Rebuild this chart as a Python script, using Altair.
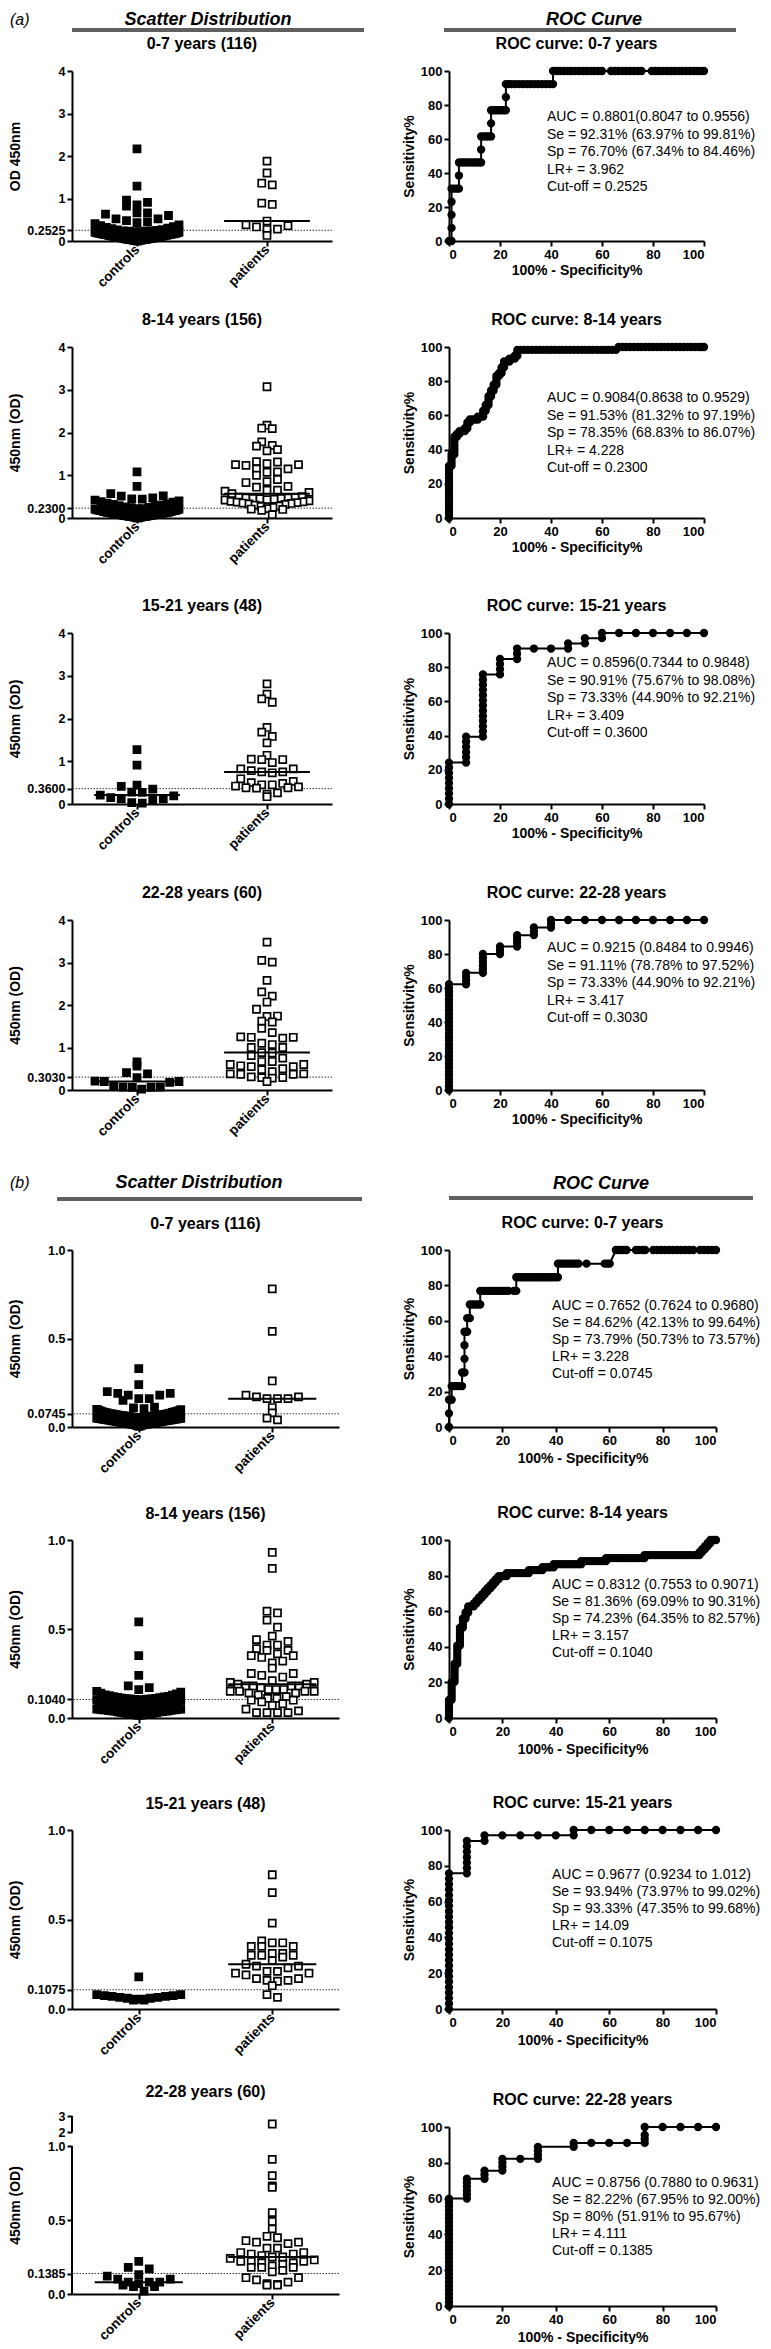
import altair as alt
import numpy as np
import pandas as pd

FONT = "Liberation Sans"

# ----------------------------- text -----------------------------
scatter_titles = ["0-7 years (116)", "8-14 years (156)", "15-21 years (48)", "22-28 years (60)"]
roc_titles = ["ROC curve: 0-7 years", "ROC curve: 8-14 years", "ROC curve: 15-21 years", "ROC curve: 22-28 years"]
ytitles_a = ["OD 450nm", "450nm (OD)", "450nm (OD)", "450nm (OD)"]
ytitles_b = ["450nm (OD)", "450nm (OD)", "450nm (OD)", "450nm (OD)"]
categories = ["controls", "patients"]

cutoffs_a = [0.2525, 0.2300, 0.3600, 0.3030]
cutoff_labels_a = ["0.2525", "0.2300", "0.3600", "0.3030"]
cutoffs_b = [0.0745, 0.1040, 0.1075, 0.1385]
cutoff_labels_b = ["0.0745", "0.1040", "0.1075", "0.1385"]

roc_text_a = [
    ["AUC =  0.8801(0.8047 to 0.9556)", "Se = 92.31% (63.97% to 99.81%)", "Sp = 76.70% (67.34% to 84.46%)", "LR+ = 3.962", "Cut-off = 0.2525"],
    ["AUC =  0.9084(0.8638 to 0.9529)", "Se = 91.53% (81.32% to 97.19%)", "Sp = 78.35% (68.83% to 86.07%)", "LR+ = 4.228", "Cut-off = 0.2300"],
    ["AUC =  0.8596(0.7344 to 0.9848)", "Se = 90.91% (75.67% to 98.08%)", "Sp = 73.33% (44.90% to 92.21%)", "LR+ = 3.409", "Cut-off = 0.3600"],
    ["AUC =  0.9215 (0.8484 to 0.9946)", "Se = 91.11% (78.78% to 97.52%)", "Sp = 73.33% (44.90% to 92.21%)", "LR+ = 3.417", "Cut-off = 0.3030"],
]
roc_text_b = [
    ["AUC =  0.7652 (0.7624 to 0.9680)", "Se = 84.62% (42.13% to 99.64%)", "Sp = 73.79% (50.73% to 73.57%)", "LR+ = 3.228", "Cut-off = 0.0745"],
    ["AUC =  0.8312 (0.7553 to 0.9071)", "Se = 81.36% (69.09% to 90.31%)", "Sp = 74.23% (64.35% to 82.57%)", "LR+ = 3.157", "Cut-off = 0.1040"],
    ["AUC =  0.9677 (0.9234 to 1.012)", "Se = 93.94% (73.97% to 99.02%)", "Sp = 93.33% (47.35% to 99.68%)", "LR+ = 14.09", "Cut-off = 0.1075"],
    ["AUC =  0.8756 (0.7880 to 0.9631)", "Se = 82.22% (67.95% to 92.00%)", "Sp = 80% (51.91% to 95.67%)", "LR+ = 4.111", "Cut-off = 0.1385"],
]

# ----------------------------- scatter values (OD 450 nm) -----------------------------
a1_controls = [2.17, 1.29, 0.96, 0.91, 0.85, 0.82, 0.66, 0.66, 0.63, 0.60, 0.52, 0.52,
               0.48, 0.45, 0.43, 0.41, 0.38, 0.36, 0.34, 0.32, 0.30, 0.29, 0.27, 0.26,
               0.25, 0.24, 0.24, 0.23, 0.23, 0.22, 0.22, 0.21, 0.21, 0.20,
               0.20, 0.19, 0.19, 0.18, 0.18, 0.18, 0.17, 0.17, 0.17, 0.16,
               0.16, 0.16, 0.15, 0.15, 0.15, 0.14, 0.14, 0.14, 0.13, 0.13,
               0.13, 0.12, 0.12, 0.12, 0.11, 0.11, 0.11, 0.10, 0.10, 0.10,
               0.09, 0.09, 0.09, 0.08, 0.08, 0.08, 0.07, 0.07, 0.07, 0.06,
               0.06, 0.06, 0.05, 0.05, 0.05, 0.04, 0.04, 0.04, 0.03, 0.03,
               0.03, 0.02, 0.02, 0.02, 0.01, 0.01, 0.19, 0.18, 0.15, 0.12,
               0.10, 0.09, 0.07, 0.05, 0.04, 0.03, 0.02, 0.01, 0.00]
a1_patients = [1.88, 1.60, 1.36, 1.32, 0.89, 0.86, 0.47, 0.38, 0.36, 0.33, 0.28, 0.27, 0.13]

a2_controls = [1.08, 0.74, 0.57, 0.52, 0.51, 0.47, 0.45, 0.44, 0.42, 0.40, 0.38, 0.37, 0.35, 0.33,
               0.32, 0.30, 0.29, 0.27, 0.26, 0.25, 0.24,
               0.22, 0.22, 0.21, 0.21, 0.20, 0.20, 0.19, 0.19, 0.18, 0.18,
               0.17, 0.17, 0.16, 0.16, 0.15, 0.15, 0.15, 0.14, 0.14, 0.14,
               0.13, 0.13, 0.13, 0.12, 0.12, 0.12, 0.11, 0.11, 0.11, 0.10,
               0.10, 0.10, 0.09, 0.09, 0.09, 0.08, 0.08, 0.08, 0.07, 0.07,
               0.07, 0.06, 0.06, 0.06, 0.05, 0.05, 0.05, 0.04, 0.04, 0.04,
               0.03, 0.03, 0.03, 0.02, 0.02, 0.02, 0.01, 0.01, 0.00, 0.18,
               0.16, 0.14, 0.12, 0.10, 0.08, 0.06, 0.04, 0.02, 0.17, 0.13,
               0.09, 0.05, 0.03, 0.19, 0.11, 0.07]
a2_patients = [3.07, 2.17, 2.10, 2.09, 1.78, 1.70, 1.68, 1.60, 1.57,
               1.32, 1.31, 1.27, 1.25, 1.25, 1.23, 1.15, 1.15, 1.08, 1.07, 1.00,
               0.90, 0.85, 0.83, 0.74, 0.72, 0.65, 0.65, 0.63, 0.60, 0.57,
               0.50, 0.49, 0.48, 0.47, 0.47, 0.46, 0.46, 0.45, 0.44, 0.43,
               0.42, 0.40, 0.39, 0.38, 0.37, 0.36, 0.35, 0.34, 0.33, 0.32,
               0.30, 0.28, 0.27, 0.25, 0.22, 0.21, 0.20, 0.18, 0.08]

a3_controls = [1.27, 0.91, 0.44, 0.41, 0.35, 0.28, 0.27, 0.21, 0.19, 0.15, 0.12, 0.12, 0.10, 0.03, 0.02]
a3_patients = [2.81, 2.57, 2.46, 2.38, 1.79, 1.68, 1.58, 1.43, 1.14, 1.05, 1.04, 1.04, 0.97,
               0.82, 0.82, 0.78, 0.75, 0.75, 0.73, 0.59, 0.53, 0.50, 0.48, 0.45, 0.45,
               0.42, 0.40, 0.38, 0.38, 0.37, 0.26, 0.23, 0.17]

a4_controls = [0.66, 0.56, 0.41, 0.38, 0.29, 0.21, 0.20, 0.20, 0.18, 0.10, 0.07, 0.07, 0.06, 0.06, 0.02]
a4_patients = [3.48, 3.05, 3.01, 2.58, 2.31, 2.21, 2.07, 1.90, 1.74, 1.73, 1.62, 1.60, 1.45, 1.35,
               1.25, 1.24, 1.24, 1.22, 1.10, 1.07, 1.00, 1.00, 0.88, 0.87, 0.81, 0.75,
               0.67, 0.67, 0.60, 0.60, 0.57, 0.55, 0.55, 0.50, 0.48,
               0.43, 0.38, 0.38, 0.37, 0.37, 0.31, 0.29, 0.29, 0.28, 0.20]

b1_controls = [0.33, 0.24, 0.20, 0.19, 0.18, 0.16, 0.15, 0.16, 0.18, 0.19,
               0.112, 0.108, 0.104, 0.10, 0.098, 0.095, 0.092, 0.09, 0.088, 0.086,
               0.085, 0.083, 0.082, 0.08, 0.079, 0.077, 0.076,
               0.074, 0.073, 0.072, 0.071, 0.07, 0.069, 0.068, 0.067, 0.066, 0.065,
               0.064, 0.063, 0.062, 0.061, 0.06, 0.059, 0.058, 0.057, 0.056, 0.055,
               0.054, 0.053, 0.052, 0.051, 0.05, 0.049, 0.048, 0.047, 0.046, 0.045,
               0.044, 0.043, 0.042, 0.041, 0.04, 0.039, 0.038, 0.037, 0.036, 0.035,
               0.034, 0.033, 0.032, 0.031, 0.03, 0.029, 0.028, 0.027, 0.026, 0.025,
               0.024, 0.023, 0.022, 0.021, 0.02, 0.019, 0.018, 0.017, 0.016, 0.015,
               0.014, 0.012, 0.01, 0.008, 0.006, 0.004, 0.062, 0.055, 0.048, 0.041,
               0.034, 0.027, 0.02, 0.066, 0.044, 0.013]
b1_patients = [0.78, 0.54, 0.26, 0.18, 0.17, 0.17, 0.16, 0.16, 0.16, 0.11, 0.08, 0.05, 0.04]

b2_controls = [0.54, 0.35, 0.24, 0.18, 0.17, 0.16, 0.15,
               0.145, 0.14, 0.135, 0.13, 0.128, 0.125, 0.122, 0.12, 0.118, 0.116, 0.114,
               0.112, 0.11, 0.109, 0.108, 0.107, 0.106, 0.105,
               0.103, 0.102, 0.10, 0.099, 0.098, 0.096, 0.095, 0.094, 0.092, 0.09,
               0.089, 0.088, 0.086, 0.085, 0.084, 0.082, 0.08, 0.079, 0.078, 0.076,
               0.075, 0.074, 0.072, 0.07, 0.069, 0.068, 0.066, 0.065, 0.064, 0.062,
               0.06, 0.059, 0.058, 0.056, 0.055, 0.054, 0.052, 0.05, 0.049, 0.048,
               0.046, 0.045, 0.044, 0.042, 0.04, 0.039, 0.038, 0.036, 0.035, 0.034,
               0.032, 0.03, 0.029, 0.028, 0.026, 0.025, 0.024, 0.022, 0.02, 0.019,
               0.018, 0.016, 0.015, 0.09, 0.085, 0.08, 0.07, 0.065, 0.06, 0.05,
               0.045, 0.04]
b2_patients = [0.93, 0.84, 0.60, 0.59, 0.55, 0.51, 0.46, 0.44, 0.43, 0.41, 0.41, 0.39, 0.38, 0.38,
               0.36, 0.35, 0.35, 0.34, 0.32, 0.31, 0.28, 0.25, 0.25, 0.24, 0.23,
               0.21, 0.20, 0.20, 0.19, 0.19, 0.18, 0.18, 0.18, 0.18,
               0.17, 0.16, 0.16, 0.16, 0.15, 0.15, 0.15, 0.15, 0.14, 0.14, 0.13,
               0.12, 0.11, 0.11, 0.10, 0.10, 0.09, 0.08, 0.07, 0.05, 0.04, 0.03, 0.03, 0.03, 0.03]

b3_controls = [0.18, 0.08, 0.08, 0.075, 0.07, 0.065, 0.06, 0.055, 0.05, 0.05, 0.055, 0.06, 0.065, 0.07, 0.075]
b3_patients = [0.75, 0.65, 0.48, 0.38, 0.37, 0.37, 0.35, 0.35, 0.35, 0.31, 0.31, 0.30, 0.30, 0.30, 0.29,
               0.27, 0.25, 0.24, 0.24, 0.23, 0.21, 0.21, 0.20, 0.20, 0.19,
               0.17, 0.17, 0.16, 0.16, 0.155, 0.13, 0.08, 0.065]

b4_controls = [0.22, 0.18, 0.17, 0.13, 0.12, 0.10, 0.10, 0.08, 0.08, 0.08, 0.07, 0.06, 0.05, 0.05, 0.02]
b4_patients = [2.50, 0.91, 0.80, 0.73, 0.72, 0.55, 0.49, 0.44,
               0.39, 0.38, 0.36, 0.35, 0.35, 0.34, 0.31, 0.31,
               0.28, 0.28, 0.27, 0.27, 0.26, 0.25, 0.25, 0.24, 0.23, 0.22,
               0.22, 0.22, 0.21, 0.21, 0.20, 0.19, 0.18, 0.18, 0.18, 0.16, 0.15,
               0.11, 0.11, 0.095, 0.08, 0.07, 0.065, 0.06, 0.06]

# ----------------------------- ROC points (100% - Specificity%, Sensitivity%) -----------------------------
a1_roc = [(0, 0), (1, 0), (1, 7.7), (1, 15.4), (1, 23.1), (1, 30.8), (2, 30.8), (3, 30.8), (3.9, 30.8), (3.9, 38.5),
          (3.9, 46.2), (5, 46.2), (6, 46.2), (7, 46.2), (8, 46.2), (9, 46.2), (10, 46.2), (11, 46.2), (12, 46.2),
          (12.6, 46.2), (12.6, 53.8), (12.6, 61.5), (13.6, 61.5), (14.6, 61.5), (15.5, 61.5), (16.5, 61.5),
          (16.5, 69.2), (16.5, 76.9), (17.5, 76.9), (18.4, 76.9), (19.4, 76.9), (20.4, 76.9), (21.4, 76.9),
          (22.3, 76.9), (22.3, 84.6), (22.3, 92.3), (23.3, 92.3), (24.5, 92.3), (26, 92.3), (27.5, 92.3), (29, 92.3),
          (30.5, 92.3), (32, 92.3), (33.5, 92.3), (35, 92.3), (36.5, 92.3), (38, 92.3), (39.5, 92.3), (40.8, 92.3),
          (40.8, 100), (42, 100), (43.5, 100), (45, 100), (46.5, 100), (48, 100), (49.5, 100), (51, 100), (52.5, 100),
          (54, 100), (55.5, 100), (57, 100), (58.5, 100), (60, 100), (63.5, 100), (65, 100), (66.5, 100), (68, 100),
          (69.5, 100), (71, 100), (72.5, 100), (74, 100), (75.5, 100), (79.5, 100), (81, 100), (82.5, 100), (84, 100),
          (85.5, 100), (87, 100), (88.5, 100), (90, 100), (91.5, 100), (93, 100), (94.5, 100), (96, 100), (97.5, 100),
          (99, 100), (100, 100)]
a2_roc = [(0, 0), (0, 1.7), (0, 3.4), (0, 5.1), (0, 6.8), (0, 8.5), (0, 10.2), (0, 11.9), (0, 13.6), (0, 15.3),
          (0, 16.9), (0, 18.6), (0, 20.3), (0, 22), (0, 23.7), (0, 25.4), (0, 27.1), (0, 28.8), (0, 30.5),
          (1, 30.5), (1, 32.2), (1, 33.9), (1, 35.6), (1, 37.3), (2.1, 37.3), (2.1, 39), (2.1, 40.7), (2.1, 42.4),
          (2.1, 44.1), (2.1, 45.8), (2.1, 47.5), (3.1, 47.5), (3.1, 49.2), (4.1, 49.2), (4.1, 50.8), (5.2, 50.8),
          (6.2, 50.8), (6.2, 52.5), (7.2, 52.5), (7.2, 54.2), (7.2, 55.9), (8.2, 55.9), (8.2, 57.6), (9.3, 57.6),
          (10.3, 57.6), (11.3, 57.6), (11.3, 59.3), (12.4, 59.3), (13.4, 59.3), (13.4, 61), (13.4, 62.7), (14.4, 62.7),
          (14.4, 64.4), (14.4, 66.1), (15.5, 66.1), (15.5, 67.8), (15.5, 69.5), (15.5, 71.2), (16.5, 71.2),
          (16.5, 72.9), (16.5, 74.6), (17.5, 74.6), (17.5, 76.3), (17.5, 78), (18.6, 78), (18.6, 79.7), (18.6, 81.4),
          (18.6, 83.1), (19.6, 83.1), (19.6, 84.7), (20.6, 84.7), (20.6, 86.4), (20.6, 88.1), (21.6, 88.1),
          (21.6, 89.8), (21.6, 91.5), (22.7, 91.5), (23.7, 91.5), (23.7, 93.2), (24.7, 93.2), (25.8, 93.2),
          (25.8, 94.9), (26.8, 94.9), (26.8, 96.6), (26.8, 98.3), (28, 98.3), (29.5, 98.3), (31, 98.3), (32.5, 98.3),
          (34, 98.3), (35.5, 98.3), (37, 98.3), (38.5, 98.3), (40, 98.3), (41.5, 98.3), (43, 98.3), (44.5, 98.3),
          (46, 98.3), (47.5, 98.3), (49, 98.3), (50.5, 98.3), (52, 98.3), (53.5, 98.3), (55, 98.3), (56.5, 98.3),
          (58, 98.3), (59.5, 98.3), (61, 98.3), (62.5, 98.3), (64, 98.3), (65.5, 98.3), (66.5, 100), (68, 100),
          (69.5, 100), (71, 100), (72.5, 100), (74, 100), (75.5, 100), (77, 100), (78.5, 100), (80, 100), (81.5, 100),
          (83, 100), (84.5, 100), (86, 100), (87.5, 100), (89, 100), (90.5, 100), (92, 100), (93.5, 100), (95, 100),
          (96.5, 100), (98, 100), (99, 100), (100, 100)]
a3_roc = [(0, 0), (0, 3), (0, 6.1), (0, 9.1), (0, 12.1), (0, 15.2), (0, 18.2), (0, 21.2), (0, 24.2), (6.7, 24.2),
          (6.7, 27.3), (6.7, 30.3), (6.7, 33.3), (6.7, 36.4), (6.7, 39.4), (13.3, 39.4), (13.3, 42.4), (13.3, 45.5),
          (13.3, 48.5), (13.3, 51.5), (13.3, 54.5), (13.3, 57.6), (13.3, 60.6), (13.3, 63.6), (13.3, 66.7),
          (13.3, 69.7), (13.3, 72.7), (13.3, 75.8), (20, 75.8), (20, 78.8), (20, 81.8), (20, 84.8), (26.7, 84.8),
          (26.7, 87.9), (26.7, 90.9), (33.3, 90.9), (40, 90.9), (46.7, 90.9), (46.7, 93.9), (53.3, 93.9), (53.3, 97),
          (60, 97), (60, 100), (66.7, 100), (73.3, 100), (80, 100), (86.7, 100), (93.3, 100), (100, 100)]
a4_roc = [(0, 0), (0, 2.2), (0, 4.4), (0, 6.7), (0, 8.9), (0, 11.1), (0, 13.3), (0, 15.6), (0, 17.8), (0, 20),
          (0, 22.2), (0, 24.4), (0, 26.7), (0, 28.9), (0, 31.1), (0, 33.3), (0, 35.6), (0, 37.8), (0, 40), (0, 42.2),
          (0, 44.4), (0, 46.7), (0, 48.9), (0, 51.1), (0, 53.3), (0, 55.6), (0, 57.8), (0, 60), (0, 62.2),
          (6.7, 62.2), (6.7, 64.4), (6.7, 66.7), (6.7, 68.9), (13.3, 68.9), (13.3, 71.1), (13.3, 73.3), (13.3, 75.6),
          (13.3, 77.8), (13.3, 80), (20, 80), (20, 82.2), (20, 84.4), (26.7, 84.4), (26.7, 86.7), (26.7, 88.9),
          (26.7, 91.1), (33.3, 91.1), (33.3, 93.3), (33.3, 95.6), (40, 95.6), (40, 97.8), (40, 100), (46.7, 100),
          (53.3, 100), (60, 100), (66.7, 100), (73.3, 100), (80, 100), (86.7, 100), (93.3, 100), (100, 100)]
b1_roc = [(0, 0), (0, 7.7), (0, 15.4), (1, 15.4), (1, 23.1), (2, 23.1), (3, 23.1), (4, 23.1), (4.9, 23.1), (4.9, 30.8),
          (5.8, 30.8), (5.8, 38.5), (5.8, 46.2), (5.8, 53.8), (6.8, 53.8), (6.8, 61.5), (7.8, 61.5), (7.8, 69.2),
          (8.7, 69.2), (9.7, 69.2), (10.7, 69.2), (11.7, 69.2), (11.7, 76.9), (12.6, 76.9), (13.6, 76.9), (14.6, 76.9),
          (15.5, 76.9), (16.5, 76.9), (17.5, 76.9), (18.4, 76.9), (19.4, 76.9), (20.4, 76.9), (21.4, 76.9),
          (22.3, 76.9), (24.3, 76.9), (25.2, 76.9), (25.2, 84.6), (26.2, 84.6), (27.2, 84.6), (28.2, 84.6),
          (29.1, 84.6), (30.1, 84.6), (31.1, 84.6), (32, 84.6), (33, 84.6), (34, 84.6), (35, 84.6), (35.9, 84.6),
          (36.9, 84.6), (37.9, 84.6), (38.8, 84.6), (39.8, 84.6), (40.8, 84.6), (40.8, 92.3), (41.7, 92.3),
          (42.7, 92.3), (43.7, 92.3), (44.7, 92.3), (45.6, 92.3), (46.6, 92.3), (47.6, 92.3), (48.5, 92.3),
          (51.5, 92.3), (58.3, 92.3), (59.2, 92.3), (60.2, 92.3), (62.5, 100), (63.5, 100), (64.5, 100), (65.5, 100),
          (66.5, 100), (70, 100), (71, 100), (72.5, 100), (73.5, 100), (76.5, 100), (78, 100), (79.5, 100), (81, 100),
          (82.5, 100), (84, 100), (85.5, 100), (87, 100), (88.5, 100), (90, 100), (91.5, 100), (94, 100), (95.5, 100),
          (97, 100), (98.5, 100), (100, 100)]
b2_roc = [(0, 0), (0, 1.7), (0, 3.4), (0, 5.1), (0, 6.8), (0, 8.5), (0, 10.2), (1, 10.2), (1, 11.9), (1, 13.6),
          (1, 15.3), (1, 16.9), (1, 18.6), (1, 20.3), (2.1, 20.3), (2.1, 22), (2.1, 23.7), (2.1, 25.4), (2.1, 27.1),
          (2.1, 28.8), (2.1, 30.5), (3.1, 30.5), (3.1, 32.2), (3.1, 33.9), (3.1, 35.6), (3.1, 37.3), (3.1, 39),
          (3.1, 40.7), (4.1, 40.7), (4.1, 42.4), (4.1, 44.1), (4.1, 45.8), (4.1, 47.5), (4.1, 49.2), (4.1, 50.8),
          (5.2, 50.8), (5.2, 52.5), (5.2, 54.2), (5.2, 55.9), (6.2, 55.9), (6.2, 57.6), (6.2, 59.3), (7.2, 59.3),
          (7.2, 61), (7.2, 62.7), (8.2, 62.7), (9.3, 62.7), (9.3, 64.4), (10.3, 64.4), (10.3, 66.1), (11.3, 66.1),
          (11.3, 67.8), (12.4, 67.8), (12.4, 69.5), (13.4, 69.5), (13.4, 71.2), (14.4, 71.2), (14.4, 72.9),
          (15.5, 72.9), (15.5, 74.6), (16.5, 74.6), (16.5, 76.3), (17.5, 76.3), (17.5, 78), (18.6, 78), (18.6, 79.7),
          (19.6, 79.7), (20.6, 79.7), (21.6, 79.7), (21.6, 81.4), (22.7, 81.4), (23.7, 81.4), (24.7, 81.4),
          (25.8, 81.4), (26.8, 81.4), (27.8, 81.4), (28.9, 81.4), (29.9, 81.4), (29.9, 83.1), (31, 83.1), (32, 83.1),
          (33, 83.1), (34, 83.1), (35, 83.1), (35, 84.7), (36, 84.7), (37, 84.7), (38, 84.7), (39.2, 84.7),
          (39.2, 86.4), (40.2, 86.4), (41.2, 86.4), (42.3, 86.4), (43.3, 86.4), (44.3, 86.4), (45.4, 86.4),
          (46.4, 86.4), (47.4, 86.4), (48.5, 86.4), (49.5, 86.4), (49.5, 88.1), (50.5, 88.1), (51.5, 88.1),
          (52.6, 88.1), (53.6, 88.1), (54.6, 88.1), (55.7, 88.1), (56.7, 88.1), (57.7, 88.1), (58.8, 88.1),
          (58.8, 89.8), (59.8, 89.8), (60.8, 89.8), (61.9, 89.8), (62.9, 89.8), (63.9, 89.8), (64.9, 89.8),
          (66, 89.8), (67, 89.8), (68, 89.8), (69.1, 89.8), (70.1, 89.8), (71.1, 89.8), (72.2, 89.8), (73.2, 89.8),
          (73.2, 91.5), (74.2, 91.5), (75.3, 91.5), (76.3, 91.5), (77.3, 91.5), (78.4, 91.5), (79.4, 91.5),
          (80.4, 91.5), (81.4, 91.5), (82.5, 91.5), (83.5, 91.5), (84.5, 91.5), (85.6, 91.5), (86.6, 91.5),
          (87.6, 91.5), (88.7, 91.5), (89.7, 91.5), (90.7, 91.5), (91.8, 91.5), (92.8, 91.5), (93.8, 91.5),
          (93.8, 93.2), (94.8, 93.2), (94.8, 94.9), (95.9, 94.9), (95.9, 96.6), (96.9, 96.6), (96.9, 98.3),
          (97.9, 98.3), (97.9, 100), (99, 100), (100, 100)]
b3_roc = [(0, 0), (0, 3), (0, 6.1), (0, 9.1), (0, 12.1), (0, 15.2), (0, 18.2), (0, 21.2), (0, 24.2), (0, 27.3),
          (0, 30.3), (0, 33.3), (0, 36.4), (0, 39.4), (0, 42.4), (0, 45.5), (0, 48.5), (0, 51.5), (0, 54.5), (0, 57.6),
          (0, 60.6), (0, 63.6), (0, 66.7), (0, 69.7), (0, 72.7), (0, 75.8), (6.7, 75.8), (6.7, 78.8), (6.7, 81.8),
          (6.7, 84.8), (6.7, 87.9), (6.7, 90.9), (6.7, 93.9), (13.3, 93.9), (13.3, 97), (20, 97), (26.7, 97),
          (33.3, 97), (40, 97), (46.7, 97), (46.7, 100), (53.3, 100), (60, 100), (66.7, 100), (73.3, 100), (80, 100),
          (86.7, 100), (93.3, 100), (100, 100)]
b4_roc = [(0, 0), (0, 2.2), (0, 4.4), (0, 6.7), (0, 8.9), (0, 11.1), (0, 13.3), (0, 15.6), (0, 17.8), (0, 20),
          (0, 22.2), (0, 24.4), (0, 26.7), (0, 28.9), (0, 31.1), (0, 33.3), (0, 35.6), (0, 37.8), (0, 40), (0, 42.2),
          (0, 44.4), (0, 46.7), (0, 48.9), (0, 51.1), (0, 53.3), (0, 55.6), (0, 57.8), (0, 60), (6.7, 60),
          (6.7, 62.2), (6.7, 64.4), (6.7, 66.7), (6.7, 68.9), (6.7, 71.1), (13.3, 71.1), (13.3, 73.3), (13.3, 75.6),
          (20, 75.6), (20, 77.8), (20, 80), (20, 82.2), (26.7, 82.2), (33.3, 82.2), (33.3, 84.4), (33.3, 86.7),
          (33.3, 88.9), (46.7, 88.9), (46.7, 91.1), (53.3, 91.1), (60, 91.1), (66.7, 91.1), (73.3, 91.1),
          (73.3, 93.3), (73.3, 95.6), (73.3, 100), (80, 100), (86.7, 100), (93.3, 100), (100, 100)]


# ----------------------------- helpers -----------------------------
def swarm(vals, to_px, bin_px=9.0, gap=10.5, max_half=42.0):
    """column-scatter layout: points in the same value row are spread sideways"""
    v = np.asarray(vals, dtype=float)
    px = np.array([to_px(x) for x in v])
    bins = np.floor(px / bin_px + 1e-9).astype(int)
    off = np.zeros(len(v))
    for b in np.unique(bins):
        idx = np.where(bins == b)[0]
        idx = idx[np.argsort(v[idx], kind="stable")]
        n = len(idx)
        step = gap if n < 2 else min(gap, 2 * max_half / (n - 1))
        slots = (np.arange(n) - (n - 1) / 2.0) * step
        order = sorted(range(n), key=lambda k: (round(abs(slots[k]), 6), -slots[k]))
        for rank, k in enumerate(order):
            off[idx[rank]] = slots[k]
    return off


def txt(text, x, y, size, weight="normal", style="normal", align="center", baseline="middle", line_height=None):
    kw = dict(font=FONT, fontSize=size, fontWeight=weight, fontStyle=style, align=align,
              baseline=baseline, color="black")
    if line_height:
        kw.update(lineBreak="\n", lineHeight=line_height)
    return alt.Chart(pd.DataFrame({"t": [text]})).mark_text(**kw).encode(
        text="t:N", x=alt.value(x), y=alt.value(y))


def hbar(x1, x2, y, color="#5f5f5f", w=4):
    return alt.Chart(pd.DataFrame({"t": [0]})).mark_rule(color=color, strokeWidth=w).encode(
        x=alt.value(x1), x2=alt.value(x2), y=alt.value(y))


def scatter_cell(ctrl, pat, cutoff, title, ytitle, W, H, ydom, yrng, yvals, label_expr,
                 title_y, header=None, broken=False):
    dom_px = [H - r for r in yrng]
    to_px = lambda val: float(np.interp(val, ydom, dom_px))
    recs = []
    for g, vals in enumerate([ctrl, pat]):
        off = swarm(vals, to_px)
        for val, o in zip(vals, off):
            recs.append({"grp": categories[g], "g": g, "v": val, "x": g + o / (W / 2.0)})
    df = pd.DataFrame(recs)

    xs = alt.Scale(domain=[-0.5, 1.5], nice=False, zero=False)
    ys = alt.Scale(domain=ydom, range=yrng, nice=False, zero=False)
    xax = alt.Axis(values=[0, 1], labelExpr="datum.value == 0 ? 'controls' : 'patients'",
                   labelAngle=-45, labelAlign="right", labelBaseline="middle",
                   labelFontSize=13.5, labelPadding=1, grid=False)
    yax = alt.Axis(values=yvals, labelExpr=label_expr, labelOverlap=False, grid=False,
                   domain=not broken, labelFontSize=12.5)

    def X(f):
        return alt.X(f, scale=xs, axis=xax, title=None)

    def Y(f):
        return alt.Y(f, scale=ys, axis=yax, title=ytitle)

    cut = alt.Chart(pd.DataFrame({"c": [cutoff]})).mark_rule(
        color="#333333", strokeWidth=1, strokeDash=[1.5, 1.5]).encode(y=Y("c:Q"))
    pts = alt.Chart(df).mark_square(size=50, stroke="black", strokeWidth=1.7, opacity=1).encode(
        x=X("x:Q"), y=Y("v:Q"),
        fill=alt.Fill("grp:N", scale=alt.Scale(domain=categories, range=["black", "white"]), legend=None))
    med = alt.Chart(df).transform_aggregate(m="median(v)", groupby=["g"]).transform_calculate(
        x1="datum.g - 0.33", x2="datum.g + 0.33").mark_rule(color="black", strokeWidth=2).encode(
        x=X("x1:Q"), x2="x2:Q", y=Y("m:Q"))
    layers = [cut, pts, med]
    if broken:
        seg = alt.Chart(pd.DataFrame({"y1": [0, 2], "y2": [1, 3]})).mark_rule(
            color="black", strokeWidth=2).encode(x=alt.value(0), y=Y("y1:Q"), y2="y2:Q")
        layers.append(seg)
    layers.append(txt(title, W / 2.0, title_y, 16, weight="bold"))
    if header:
        layers += header
    return alt.layer(*layers).properties(width=W, height=H)


def roc_cell(pairs, title, lines, W, H, p, tx, ty, lh, xtitle_pad, header=None):
    PT = H - p
    df = pd.DataFrame({"fpr": [a for a, b in pairs], "sens": [b for a, b in pairs],
                       "i": list(range(len(pairs)))})
    xs = alt.Scale(domain=[0, 100], nice=False)
    ys = alt.Scale(domain=[0, 100], range=[H, PT], nice=False)
    ticks = [0, 20, 40, 60, 80, 100]
    line = alt.Chart(df).mark_line(
        color="black", strokeWidth=2,
        point=alt.OverlayMarkDef(filled=True, fill="black", stroke="black", size=40)).encode(
        x=alt.X("fpr:Q", scale=xs, axis=alt.Axis(values=ticks, grid=False, titlePadding=xtitle_pad),
                title="100% - Specificity%"),
        y=alt.Y("sens:Q", scale=ys, axis=alt.Axis(values=ticks, grid=False), title="Sensitivity%"),
        order="i:Q")
    layers = [line,
              txt(title, W / 2.0, PT - 27, 16, weight="bold"),
              txt("\n".join(lines), tx, PT + ty, 14, align="left", baseline="top", line_height=lh)]
    if header:
        layers += header
    return alt.layer(*layers).properties(width=W, height=H)


# ----------------------------- layout -----------------------------
WA, WRA = 260, 255           # panel (a): scatter width, ROC width
WB, WRB = 267, 267           # panel (b)
# (cell height, plot height) per row
rows_a = [(170, 170), (177, 171), (186, 171), (186, 170)]
rows_b = [(237, 177), (191, 178), (191, 179), (197, 179)]
# vertical offset of the ROC annotation block below the plot top
text_top_a = [39, 44, 23, 21]
text_top_b = [49, 38, 38, 49]

sets_a = [(a1_controls, a1_patients, a1_roc), (a2_controls, a2_patients, a2_roc),
          (a3_controls, a3_patients, a3_roc), (a4_controls, a4_patients, a4_roc)]
sets_b = [(b1_controls, b1_patients, b1_roc), (b2_controls, b2_patients, b2_roc),
          (b3_controls, b3_patients, b3_roc), (b4_controls, b4_patients, b4_roc)]

cells = []
for k in range(4):
    H, p = rows_a[k]
    PT = H - p
    ctrl, pat, roc = sets_a[k]
    c, lab = cutoffs_a[k], cutoff_labels_a[k]
    hs = hr = None
    if k == 0:
        hs = [txt("(a)", -62, PT - 51, 16, style="italic", align="left"),
              txt("Scatter Distribution", 136, PT - 51, 18, weight="bold", style="italic"),
              hbar(0, 292, PT - 41)]
        hr = [txt("ROC Curve", 145, PT - 51, 18, weight="bold", style="italic"),
              hbar(-5, 287, PT - 41)]
    expr = "datum.value == %r ? '%s' : format(datum.value, 'd')" % (c, lab)
    cells.append(scatter_cell(ctrl, pat, c, scatter_titles[k], ytitles_a[k], WA, H,
                              [0, 4], [H, PT], [0, c, 1, 2, 3, 4], expr, PT - 27, header=hs))
    cells.append(roc_cell(roc, roc_titles[k], roc_text_a[k], WRA, H, p, 98, text_top_a[k], 17.5, 2,
                          header=hr))

for k in range(4):
    H, p = rows_b[k]
    PT = H - p
    ctrl, pat, roc = sets_b[k]
    c, lab = cutoffs_b[k], cutoff_labels_b[k]
    hs = hr = None
    if k == 0:
        hs = [txt("(b)", -62, PT - 67, 16, style="italic", align="left"),
              txt("Scatter Distribution", 127, PT - 67, 18, weight="bold", style="italic"),
              hbar(-15, 290, PT - 51)]
        hr = [txt("ROC Curve", 152, PT - 66, 18, weight="bold", style="italic"),
              hbar(0, 304, PT - 52)]
    expr = ("datum.value == %r ? '%s' : (datum.value >= 2 ? format(datum.value, 'd') : "
            "format(datum.value, '.1f'))" % (c, lab))
    if k == 3:
        Hs = 185
        cells.append(scatter_cell(ctrl, pat, c, scatter_titles[k], ytitles_b[k], WB, Hs,
                                  [0, 1, 2, 3], [Hs, Hs - 148, Hs - 162, Hs - 178],
                                  [0, c, 0.5, 1.0, 2, 3], expr, Hs - 178 - 24, broken=True))
    else:
        cells.append(scatter_cell(ctrl, pat, c, scatter_titles[k], ytitles_b[k], WB, H,
                                  [0, 1], [H, PT], [0, c, 0.5, 1.0], expr, PT - 26, header=hs))
    cells.append(roc_cell(roc, roc_titles[k], roc_text_b[k], WRB, H, p, 103, text_top_b[k], 17, 4,
                          header=hr))

chart = alt.concat(*cells, columns=2, spacing={"row": 100, "column": 110},
                   bounds="flush", align="each").properties(
    padding={"top": 3, "left": 0, "right": 0, "bottom": 0})
chart = chart.configure_view(stroke=None).configure_axis(
    domainColor="black", domainWidth=2, tickColor="black", tickWidth=2, tickSize=5,
    labelFont=FONT, labelFontSize=13, labelFontWeight="bold", labelColor="black", labelPadding=2,
    titleFont=FONT, titleFontSize=14, titleFontWeight="bold", titleColor="black", titlePadding=4,
    grid=False)

chart.save("out.html", embed_options={"renderer": "svg", "actions": False})
